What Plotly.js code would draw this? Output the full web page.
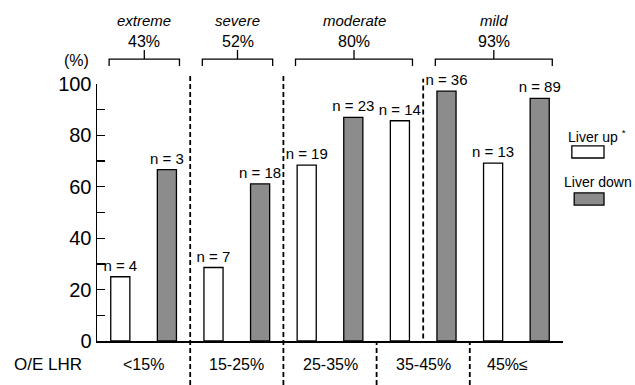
<!DOCTYPE html>
<html>
<head>
<meta charset="utf-8">
<script src="https://cdn.plot.ly/plotly-3.0.1.min.js"></script>
<style>html,body{margin:0;padding:0;background:#fff;}#chart{width:635px;height:385px;}</style>
</head>
<body>
<div id="chart"></div>
<script>
// Data
var lhrCategories = ['<15%', '15-25%', '25-35%', '35-45%', '45%≤'];
var liverUpPct = [25.0, 28.6, 68.4, 85.7, 69.2];
var liverUpN = [4, 7, 19, 14, 13];
var liverDownPct = [66.7, 61.1, 87.0, 97.2, 94.4];
var liverDownN = [3, 18, 23, 36, 89];
var severityNames = ['extreme', 'severe', 'moderate', 'mild'];
var severityPct = ['43%', '52%', '80%', '93%'];
var yTickVals = [0, 20, 40, 60, 80, 100];

// bar slots: each category has a Liver up (even) and Liver down (odd) slot
var upX = liverUpPct.map(function (_, i) { return 2 * i; });
var downX = liverDownPct.map(function (_, i) { return 2 * i + 1; });
// severity groups span slots
var severitySpan = [[0, 1], [2, 3], [4, 6], [7, 9]];

var FONT = 'Liberation Sans, Arial, Helvetica, sans-serif';

var traces = [
  {
    type: 'bar', name: 'Liver up', x: upX, y: liverUpPct, width: 0.41,
    marker: { color: '#ffffff', line: { color: '#000', width: 1.3 } },
    text: liverUpN.map(function (n) { return 'n = ' + n; }),
    textposition: 'outside', constraintext: 'none', cliponaxis: false,
    textfont: { family: FONT, size: 15, color: '#000' },
    hoverinfo: 'skip'
  },
  {
    type: 'bar', name: 'Liver down', x: downX, y: liverDownPct, width: 0.41,
    marker: { color: '#8c8c8c', line: { color: '#000', width: 1.3 } },
    text: liverDownN.map(function (n) { return 'n = ' + n; }),
    textposition: 'outside', constraintext: 'none', cliponaxis: false,
    textfont: { family: FONT, size: 15, color: '#000' },
    hoverinfo: 'skip'
  }
];

var shapes = [];
var annotations = [];

// dashed separators
function vdash(x, y0, y1) {
  shapes.push({ type: 'line', xref: 'x', yref: 'paper', x0: x, x1: x, y0: y0, y1: y1,
    line: { color: '#000', width: 1.8, dash: '5px,3px' } });
}
vdash(1.5, -0.171, 1.035);
vdash(3.5, -0.171, 1.035);
vdash(6.5, 0.01, 1.02);
vdash(5.5, -0.171, 0);
vdash(7.5, -0.171, 0);

// brackets and severity labels
var yb = 1.097, yd = 1.070, yt = 1.132;
severitySpan.forEach(function (s, i) {
  var x0 = s[0] - 0.24, x1 = s[1] + 0.27;
  var xm = (x0 + x1) / 2;
  shapes.push({ type: 'path', xref: 'x', yref: 'paper',
    path: 'M' + x0 + ',' + yd + ' L' + x0 + ',' + yb + ' L' + x1 + ',' + yb + ' L' + x1 + ',' + yd +
          ' M' + xm + ',' + yb + ' L' + xm + ',' + yt,
    line: { color: '#000', width: 1.3 } });
  annotations.push({ xref: 'x', yref: 'paper', x: xm, y: 1.249, text: '<i>' + severityNames[i] + '</i>',
    showarrow: false, font: { family: FONT, size: 15, color: '#000' }, xanchor: 'center', yanchor: 'middle' });
  annotations.push({ xref: 'x', yref: 'paper', x: xm, y: 1.165, text: severityPct[i],
    showarrow: false, font: { family: FONT, size: 16, color: '#000' }, xanchor: 'center', yanchor: 'middle' });
});

// category labels under the axis
var catBounds = [-0.5, 1.5, 3.5, 5.5, 7.5, 9.5];
lhrCategories.forEach(function (c, i) {
  var xm = (catBounds[i] + catBounds[i + 1]) / 2;
  if (i === 4) xm -= 0.2;
  annotations.push({ xref: 'x', yref: 'paper', x: xm, y: -0.09, text: c, showarrow: false,
    font: { family: FONT, size: 16, color: '#000' }, xanchor: 'center', yanchor: 'middle' });
});

annotations.push({ xref: 'paper', yref: 'paper', x: -0.105, y: -0.09, text: 'O/E LHR', showarrow: false,
  font: { family: FONT, size: 17, color: '#000' }, xanchor: 'center', yanchor: 'middle' });
annotations.push({ xref: 'paper', yref: 'paper', x: -0.043, y: 1.093, text: '(%)', showarrow: false,
  font: { family: FONT, size: 16, color: '#000' }, xanchor: 'center', yanchor: 'middle' });

// custom legend
annotations.push({ xref: 'paper', yref: 'paper', x: 1.073, y: 0.798, text: 'Liver up <sup>*</sup>', showarrow: false,
  font: { family: FONT, size: 14, color: '#000' }, xanchor: 'center', yanchor: 'middle' });
shapes.push({ type: 'rect', xref: 'paper', yref: 'paper', x0: 1.019, x1: 1.088, y0: 0.712, y1: 0.759,
  fillcolor: '#ffffff', line: { color: '#000', width: 1.3 } });
annotations.push({ xref: 'paper', yref: 'paper', x: 1.075, y: 0.619, text: 'Liver down', showarrow: false,
  font: { family: FONT, size: 14, color: '#000' }, xanchor: 'center', yanchor: 'middle' });
shapes.push({ type: 'rect', xref: 'paper', yref: 'paper', x0: 1.024, x1: 1.088, y0: 0.529, y1: 0.576,
  fillcolor: '#8c8c8c', line: { color: '#000', width: 1.3 } });

var layout = {
  width: 635, height: 385,
  margin: { l: 97, r: 72, t: 84, b: 44, pad: 0 },
  paper_bgcolor: '#fff', plot_bgcolor: '#fff',
  showlegend: false,
  font: { family: FONT, color: '#000' },
  xaxis: { range: [-0.5, 9.5], showgrid: false, zeroline: false, showticklabels: false, ticks: '',
    showline: true, linecolor: '#000', linewidth: 1.5, fixedrange: true },
  yaxis: { range: [0, 100], showgrid: false, zeroline: false, showline: true, linecolor: '#000', linewidth: 1.5,
    ticks: 'inside', ticklen: 8, tickwidth: 1.3, tickcolor: '#000',
    tickmode: 'array', tickvals: yTickVals,
    minor: { tickmode: 'array', tickvals: [10, 30, 50, 70, 90], ticks: 'inside', ticklen: 8, tickwidth: 1.3, tickcolor: '#000', showgrid: false },
    tickfont: { family: FONT, size: 20, color: '#000' }, fixedrange: true },
  shapes: shapes,
  annotations: annotations
};

Plotly.newPlot('chart', traces, layout, { staticPlot: true, displayModeBar: false });
</script>
</body>
</html>
